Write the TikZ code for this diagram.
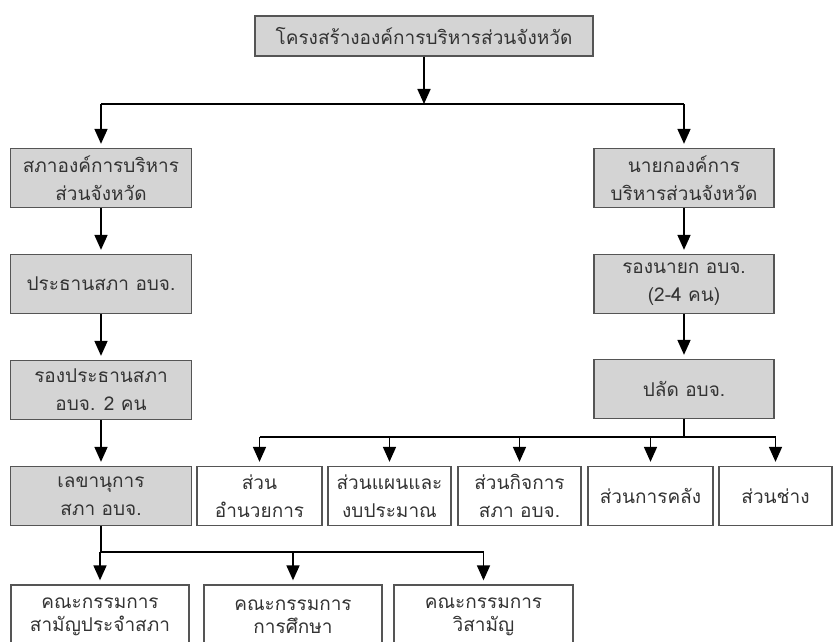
\documentclass[tikz,border=0pt]{standalone}
\usepackage{fontspec}
\newfontfamily\thaifont[Script=Thai]{Loma}
\usetikzlibrary{arrows.meta}
\definecolor{BoxGray}{HTML}{D4D4D4}
\definecolor{EdgeGray}{HTML}{555555}
\definecolor{TextGray}{HTML}{333333}

\begin{document}
\begin{tikzpicture}[x=1pt, y=-1pt,
    box/.style={draw=EdgeGray, line width=1.3pt, align=center, inner sep=0pt,
      font=\thaifont\fontsize{19}{28}\selectfont, text=TextGray, minimum height=59pt},
    graybox/.style={box, fill=BoxGray},
    whitebox/.style={box, fill=white},
    committee/.style={whitebox, minimum height=64pt, font=\thaifont\fontsize{19}{23}\selectfont},
    link/.style={line width=1.7pt},
    arr/.style={link, -{Triangle[length=15pt,width=13pt]}, shorten >=4pt}]
    \useasboundingbox (0,0) rectangle (833,642);

    % top
    \node[graybox, minimum width=338pt, minimum height=40pt] (title) at (424,36) {โครงสร้างองค์การบริหารส่วนจังหวัด};

    % left column: council
    \node[graybox, minimum width=181pt] (sapha) at (101,178) {สภาองค์การบริหาร\\ส่วนจังหวัด};
    \node[graybox, minimum width=181pt] (prathan) at (101,284) {ประธานสภา อบจ.};
    \node[graybox, minimum width=181pt] (rongprathan) at (101,390) {รองประธานสภา\\อบจ. 2 คน};
    \node[graybox, minimum width=181pt] (lekha) at (101,496) {เลขานุการ\\สภา อบจ.};

    % right column: executive
    \node[graybox, minimum width=180pt] (nayok) at (684,178) {นายกองค์การ\\บริหารส่วนจังหวัด};
    \node[graybox, minimum width=180pt] (rongnayok) at (684,284) {รองนายก อบจ.\\(2-4 คน)};
    \node[graybox, minimum width=180pt] (palat) at (684,389) {ปลัด อบจ.};

    % divisions
    \node[whitebox, minimum width=125pt] (amnuay) at (259.5,496) {ส่วน\\อำนวยการ};
    \node[whitebox, minimum width=123pt] (phaen) at (389.5,496) {ส่วนแผนและ\\งบประมาณ};
    \node[whitebox, minimum width=123pt] (kitchakan) at (519.5,496) {ส่วนกิจการ\\สภา อบจ.};
    \node[whitebox, minimum width=125pt] (klang) at (650.5,496) {ส่วนการคลัง};
    \node[whitebox, minimum width=113pt] (chang) at (775.5,496) {ส่วนช่าง};

    % committees
    \node[committee, minimum width=178pt] (samanya) at (100,617) {คณะกรรมการ\\สามัญประจำสภา};
    \node[committee, minimum width=178pt] (sueksa) at (293,617) {คณะกรรมการ\\การศึกษา};
    \node[committee, minimum width=179pt] (wisaman) at (483.5,617) {คณะกรรมการ\\วิสามัญ};

    % bus points
    \coordinate (topbus) at (424,104);
    \coordinate (palatbus) at (684,437);
    \coordinate (lekhabus) at (101,552);

    % connectors
    \draw[arr, shorten >=0pt] (title.south) -- (topbus);
    \draw[link] (sapha.north |- topbus) -- (nayok.north |- topbus);
    \draw[arr] (sapha.north |- topbus) -- (sapha.north);
    \draw[arr] (nayok.north |- topbus) -- (nayok.north);

    \draw[arr] (sapha) -- (prathan);
    \draw[arr] (prathan) -- (rongprathan);
    \draw[arr] (rongprathan) -- (lekha);
    \draw[arr] (nayok) -- (rongnayok);
    \draw[arr] (rongnayok) -- (palat);

    \draw[link] (palat.south) -- (palatbus);
    \draw[link] (amnuay.north |- palatbus) -- (chang.north |- palatbus);
    \foreach \d in {amnuay, phaen, kitchakan, klang, chang}
      \draw[arr] (\d.north |- palatbus) -- (\d.north);

    \draw[link] (lekha.south) -- (lekhabus);
    \draw[link] (lekhabus) -- (wisaman.north |- lekhabus);
    \foreach \c in {samanya, sueksa, wisaman}
      \draw[arr] (\c.north |- lekhabus) -- (\c.north);
\end{tikzpicture}
\end{document}
